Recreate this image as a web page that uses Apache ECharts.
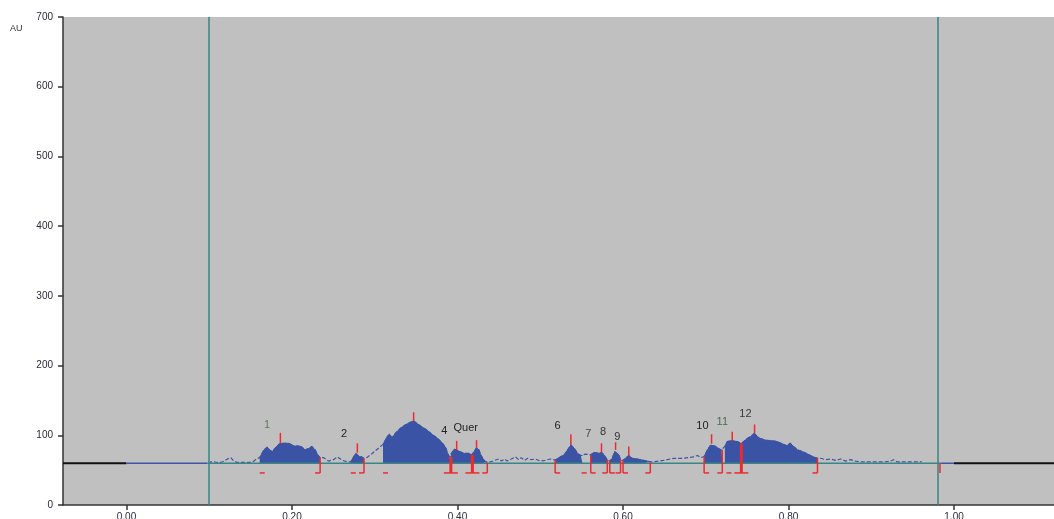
<!DOCTYPE html>
<html>
<head>
<meta charset="utf-8">
<title>Densitogram</title>
<script src="https://cdn.jsdelivr.net/npm/echarts@6.0.0/dist/echarts.min.js"></script>
<style>
  html, body { margin: 0; padding: 0; background: #fff; }
  #chart { width: 1054px; height: 519px; }
</style>
</head>
<body>
<div id="chart"></div>
<script>
// axis ranges (Rf on x, AU on y)
const X_MIN = -0.0767;
const X_MAX = 1.1208;
const BASELINE = 60;
const MARK_BOTTOM = 46;
const xTicks = [0, 0.2, 0.4, 0.6, 0.8, 1.0];
const scanLimits = [0.0976, 0.9843];

// scanned profile [Rf, AU]
const profile = [
  [0.099, 60], [0.102, 62], [0.104, 63], [0.106, 62], [0.109, 61], [0.114, 61], [0.118, 63], [0.122, 66],
  [0.126, 68], [0.129, 64], [0.133, 61], [0.138, 61], [0.150, 61], [0.154, 63], [0.157, 66],
  [0.161, 68], [0.166, 79], [0.170, 83], [0.173, 79], [0.176, 76.5], [0.180, 82], [0.184, 87], [0.188, 88.5],
  [0.196, 88.5], [0.200, 86], [0.204, 84], [0.208, 85], [0.212, 83], [0.216, 79], [0.220, 81], [0.224, 84],
  [0.228, 79], [0.231, 72], [0.234, 68],
  [0.238, 68], [0.244, 63], [0.250, 65], [0.255, 69], [0.261, 64], [0.267, 62],
  [0.271, 62], [0.274, 68], [0.277, 74], [0.279, 75], [0.281, 69.5], [0.284, 69], [0.287, 67],
  [0.291, 68.5], [0.295, 72], [0.299, 76], [0.307, 84],
  [0.310, 87], [0.315, 98], [0.318, 101.5], [0.321, 96.5], [0.325, 103], [0.331, 110], [0.337, 115],
  [0.343, 118.5], [0.347, 120.5], [0.351, 117], [0.357, 112], [0.363, 107.5], [0.369, 101.5], [0.376, 95.5],
  [0.382, 88.5], [0.386, 81.5], [0.388, 74], [0.390, 69.5], [0.392, 69],
  [0.394, 76.5], [0.396, 80], [0.399, 79], [0.402, 77], [0.408, 74], [0.414, 74], [0.417, 72], [0.418, 72],
  [0.420, 76.5], [0.423, 82], [0.426, 79], [0.428, 72], [0.431, 66], [0.434, 62], [0.436, 61],
  [0.440, 62], [0.445, 64], [0.450, 66], [0.453, 63], [0.457, 66], [0.460, 63], [0.465, 66], [0.470, 69],
  [0.474, 65], [0.477, 68], [0.481, 64], [0.485, 67], [0.489, 65], [0.494, 66], [0.500, 63], [0.506, 64],
  [0.512, 66],
  [0.518, 64.5], [0.525, 69.5], [0.529, 72], [0.533, 79], [0.537, 86], [0.541, 81.5], [0.545, 74],
  [0.549, 71], [0.551, 71],
  [0.555, 73],
  [0.561, 72], [0.565, 75.5], [0.571, 74], [0.574, 75.5], [0.577, 72], [0.581, 64.5], [0.582, 63],
  [0.584, 63], [0.587, 67], [0.590, 76.5], [0.592, 79], [0.595, 72], [0.597, 64.5], [0.598, 63],
  [0.600, 64], [0.603, 67], [0.607, 71], [0.611, 67], [0.617, 66], [0.625, 64], [0.633, 62],
  [0.637, 62], [0.649, 64], [0.661, 67], [0.673, 67], [0.685, 69], [0.690, 71], [0.694, 68],
  [0.698, 69.5], [0.702, 79], [0.706, 86], [0.708, 88.5], [0.712, 84], [0.716, 80.5], [0.719, 79], [0.720, 79],
  [0.723, 84], [0.726, 91], [0.729, 92], [0.732, 92], [0.738, 91], [0.742, 88.5], [0.743, 88.5],
  [0.746, 91], [0.750, 95.5], [0.754, 98], [0.759, 103], [0.762, 98], [0.766, 95.5], [0.772, 93],
  [0.780, 92], [0.786, 91], [0.794, 87], [0.798, 85], [0.802, 88.5], [0.806, 84], [0.811, 79],
  [0.817, 76.5], [0.823, 73], [0.829, 69.5], [0.835, 67],
  [0.839, 67], [0.845, 65], [0.851, 66], [0.857, 64], [0.863, 66], [0.869, 63], [0.875, 65], [0.881, 63],
  [0.887, 62], [0.893, 62], [0.905, 62], [0.917, 62], [0.923, 63], [0.927, 65], [0.931, 62], [0.941, 62],
  [0.954, 62], [0.961, 62]
];

// integrated peak windows [start, end]
const peakRanges = [
  [0.161, 0.234], [0.271, 0.287], [0.310, 0.392], [0.392, 0.418], [0.418, 0.436], [0.518, 0.551],
  [0.561, 0.582], [0.584, 0.598], [0.600, 0.633], [0.698, 0.720], [0.723, 0.743], [0.743, 0.835]
];

// peak maximum markers [Rf, top, profile value]
const peakTicks = [
  [0.186, 103.5, 88.5], [0.279, 88.5, 75], [0.347, 133, 120.5], [0.399, 92, 79], [0.423, 93, 82],
  [0.537, 101.5, 86], [0.574, 88.5, 75.5], [0.591, 90, 79], [0.607, 84, 71], [0.707, 101.5, 88],
  [0.732, 105, 92], [0.759, 115.5, 103]
];

// window boundary markers [Rf, profile value]
const openMarks = [[0.518, 64.5], [0.561, 72], [0.584, 63], [0.600, 64], [0.698, 69.5]];
const closeMarks = [[0.234, 68], [0.287, 67], [0.436, 61], [0.581, 64.5], [0.597, 64.5], [0.633, 62], [0.720, 79], [0.835, 67]];
const splitMarks = [[0.392, 69], [0.418, 72], [0.743, 88.5]];
const dashMarks = [0.161, 0.271, 0.310, 0.550, 0.725];
const endMarks = [0.983];

const labelText = ['1', '2', '4', 'Quer', '6', '7', '8', '9', '10', '11', '12'];
const labelPos = [
  [0.170, 115], [0.263, 102], [0.384, 106], [0.410, 110.5], [0.521, 114], [0.558, 102],
  [0.576, 105], [0.593, 97.5], [0.696, 114], [0.720, 119], [0.748, 130.5]
];
const labelColors = ['#5e7a58', '#222', '#222', '#222', '#222', '#4a4a3a', '#333', '#333', '#222', '#4f6a52', '#3a3a3a'];

const FILL = '#3a53a4';
const TEAL = '#3a8585';
const RED = '#ee2a2a';
const TRACE = '#3f55aa';
const FONT = '"Liberation Sans", Arial, sans-serif';

const chart = echarts.init(document.getElementById('chart'));

const peakSeries = peakRanges.map(([a, b]) => ({
  type: 'line',
  data: profile.filter(p => p[0] >= a - 1e-9 && p[0] <= b + 1e-9),
  showSymbol: false,
  lineStyle: {color: FILL, width: 1},
  areaStyle: {color: FILL, opacity: 1, origin: BASELINE},
  z: 3,
  silent: true
}));

function markSeries(data, draw) {
  return {
    type: 'custom',
    data: data,
    encode: {x: 0, y: 1},
    z: 5,
    silent: true,
    renderItem: (params, api) => {
      const top = api.coord([api.value(0), api.value(1)]);
      const bot = api.coord([api.value(0), MARK_BOTTOM]);
      return {type: 'group', children: draw(top, bot)};
    }
  };
}

function seg(x1, y1, x2, y2, w) {
  return {type: 'line', shape: {x1, y1, x2, y2}, style: {stroke: RED, lineWidth: w}};
}

const baseSegments = [
  {data: [[X_MIN, BASELINE], [0, BASELINE]], color: '#111', width: 2},
  {data: [[0, BASELINE], [scanLimits[0], BASELINE]], color: TRACE, width: 1.5},
  {data: [[scanLimits[0], BASELINE], [scanLimits[1], BASELINE]], color: TEAL, width: 1.5},
  {data: [[scanLimits[1], BASELINE], [1.0, BASELINE]], color: TRACE, width: 1.5},
  {data: [[1.0, BASELINE], [X_MAX, BASELINE]], color: '#111', width: 2}
].map(s => ({
  type: 'line',
  data: s.data,
  showSymbol: false,
  lineStyle: {color: s.color, width: s.width},
  z: 4,
  silent: true
}));

chart.setOption({
  animation: false,
  grid: {
    left: 63, right: 0, top: 17, bottom: 14,
    show: true, backgroundColor: '#c0c0c0', borderWidth: 0,
    containLabel: false, outerBoundsMode: 'none'
  },
  xAxis: {
    type: 'value',
    min: X_MIN,
    max: X_MAX,
    axisLine: {show: true, onZero: false, lineStyle: {color: '#333', width: 1.5}},
    axisTick: {show: true, customValues: xTicks, length: 5, lineStyle: {color: '#333', width: 1.5}},
    axisLabel: {
      customValues: xTicks,
      formatter: v => v.toFixed(2),
      margin: 7,
      color: '#2a2a3a',
      fontSize: 10,
      fontFamily: FONT
    },
    splitLine: {show: false}
  },
  yAxis: {
    type: 'value',
    min: 0,
    max: 700,
    interval: 100,
    axisLine: {show: true, onZero: false, lineStyle: {color: '#333', width: 1.5}},
    axisTick: {show: true, length: 5, lineStyle: {color: '#333', width: 1.5}},
    axisLabel: {margin: 10, color: '#2a2a3a', fontSize: 10, fontFamily: FONT},
    splitLine: {show: false}
  },
  graphic: [{
    type: 'text', left: 10, top: 24,
    style: {text: 'AU', fill: '#333', font: '9px ' + FONT}
  }],
  series: [
    {
      type: 'line',
      data: profile,
      showSymbol: false,
      lineStyle: {color: TRACE, width: 1.2, type: [4, 2]},
      z: 2,
      silent: true,
      markLine: {
        silent: true,
        symbol: 'none',
        label: {show: false},
        lineStyle: {color: TEAL, width: 1.5, type: 'solid'},
        data: scanLimits.map(x => ({xAxis: x}))
      }
    },
    ...peakSeries,
    ...baseSegments,
    {
      type: 'custom',
      data: peakTicks,
      encode: {x: 0, y: [1, 2]},
      z: 5,
      silent: true,
      renderItem: (params, api) => {
        const a = api.coord([api.value(0), api.value(1)]);
        const b = api.coord([api.value(0), api.value(2)]);
        return seg(a[0], a[1], b[0], b[1], 1.5);
      }
    },
    markSeries(openMarks, (t, b) => [seg(t[0], t[1], b[0], b[1], 1.5), seg(b[0], b[1], b[0] + 5, b[1], 1.5)]),
    markSeries(closeMarks, (t, b) => [seg(t[0], t[1], b[0], b[1], 1.5), seg(b[0] - 5, b[1], b[0], b[1], 1.5)]),
    markSeries(splitMarks, (t, b) => [seg(t[0], t[1], b[0], b[1], 3), seg(b[0] - 7, b[1], b[0] + 7, b[1], 1.5)]),
    markSeries(dashMarks.map(x => [x, MARK_BOTTOM]), (t, b) => [seg(b[0], b[1], b[0] + 5, b[1], 1.5)]),
    markSeries(endMarks.map(x => [x, BASELINE]), (t, b) => [seg(t[0], t[1], b[0], b[1], 1.5)]),
    {
      type: 'custom',
      data: labelPos,
      encode: {x: 0, y: 1},
      z: 6,
      silent: true,
      renderItem: (params, api) => {
        const p = api.coord([api.value(0), api.value(1)]);
        return {
          type: 'text', x: p[0], y: p[1],
          style: {
            text: labelText[params.dataIndex],
            fill: labelColors[params.dataIndex],
            font: '11px ' + FONT,
            align: 'center',
            verticalAlign: 'middle'
          }
        };
      }
    }
  ]
});
</script>
</body>
</html>
